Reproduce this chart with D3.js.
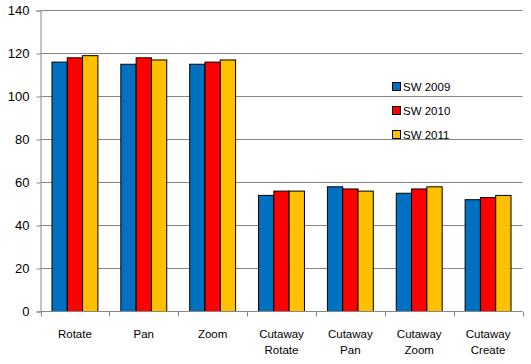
<!DOCTYPE html>
<html>
<head>
<meta charset="utf-8">
<script src="https://cdn.jsdelivr.net/npm/d3@7"></script>
<style>
  body { margin: 0; background: #fff; }
  text { font-family: "Liberation Sans", Arial, sans-serif; fill: #000; }
</style>
</head>
<body>
<svg id="chart" width="531" height="364"></svg>
<script>
var categories = [["Rotate"], ["Pan"], ["Zoom"], ["Cutaway", "Rotate"], ["Cutaway", "Pan"], ["Cutaway", "Zoom"], ["Cutaway", "Create"]];
var seriesNames = ["SW 2009", "SW 2010", "SW 2011"];
var sw2009 = [116, 115, 115, 54, 58, 55, 52];
var sw2010 = [118, 118, 116, 56, 57, 57, 53];
var sw2011 = [119, 117, 117, 56, 56, 58, 54];
var yTicks = [0, 20, 40, 60, 80, 100, 120, 140];
var colors = ["#0070C0", "#FF0000", "#FFC000"];

function drawChart() {
    var series = [sw2009, sw2010, sw2011];
    var svg = d3.select("#chart");
    var plotLeft = 40.5, plotRight = 522.5, plotTop = 10.5, plotBottom = 311.5;

    var x = d3.scaleBand()
        .domain(d3.range(categories.length))
        .range([plotLeft, plotRight])
        .paddingInner(0)
        .paddingOuter(0);

    // gap between groups is 150% of a bar width
    var inner = d3.scaleBand()
        .domain(d3.range(series.length))
        .range([0, x.bandwidth()])
        .paddingInner(0)
        .paddingOuter(0.75);

    var y = d3.scaleLinear().domain([0, 140]).range([plotBottom, plotTop]);

    // gridlines
    svg.append("g")
        .selectAll("line")
        .data(yTicks.filter(function(d) { return d > 0; }))
        .enter()
        .append("line")
            .attr("x1", plotLeft)
            .attr("x2", plotRight)
            .attr("y1", function(d) { return y(d); })
            .attr("y2", function(d) { return y(d); })
            .attr("stroke", "#868686");

    // y axis
    var yAxis = svg.append("g")
        .attr("transform", "translate(" + plotLeft + ",0)")
        .call(d3.axisLeft(y).tickValues(yTicks).tickSize(4).tickPadding(7));
    yAxis.select(".domain").attr("stroke", "#868686");
    yAxis.selectAll(".tick line").attr("stroke", "#868686");
    yAxis.selectAll("text").style("font-size", "13px").style("font-family", "Liberation Sans, Arial, sans-serif");

    // bars
    series.forEach(function(vals, s) {
        svg.append("g")
            .selectAll("rect")
            .data(vals)
            .enter()
            .append("rect")
                .attr("x", function(d, i) { return x(i) + inner(s); })
                .attr("y", function(d) { return y(d); })
                .attr("width", inner.bandwidth())
                .attr("height", function(d) { return plotBottom - y(d); })
                .attr("fill", colors[s])
                .attr("stroke", "#000")
                .attr("stroke-width", 1);
    });

    // x axis
    svg.append("line")
        .attr("x1", plotLeft).attr("x2", plotRight)
        .attr("y1", plotBottom).attr("y2", plotBottom)
        .attr("stroke", "#868686");

    svg.append("g")
        .selectAll("line")
        .data(d3.range(categories.length + 1))
        .enter()
        .append("line")
            .attr("x1", function(i) { return Math.round(plotLeft + i * x.step()) + 0.5; })
            .attr("x2", function(i) { return Math.round(plotLeft + i * x.step()) + 0.5; })
            .attr("y1", plotBottom)
            .attr("y2", plotBottom + 5)
            .attr("stroke", "#868686");

    var labels = svg.append("g")
        .selectAll("text")
        .data(categories)
        .enter()
        .append("text")
            .attr("text-anchor", "middle")
            .style("font-size", "11.5px")
            .attr("x", function(d, i) { return x(i) + x.bandwidth() / 2; });
    labels.selectAll("tspan")
        .data(function(d) { return d; })
        .enter()
        .append("tspan")
            .attr("x", function() { return d3.select(this.parentNode).attr("x"); })
            .attr("y", function(d, j) { return 337.5 + j * 16; })
            .text(function(d) { return d; });

    // legend
    var legend = svg.append("g")
        .selectAll("g")
        .data(seriesNames)
        .enter()
        .append("g")
            .attr("transform", function(d, i) { return "translate(392," + (86 + i * 24) + ")"; });
    legend.append("rect")
        .attr("x", 0.5).attr("y", -3.5)
        .attr("width", 8).attr("height", 8)
        .attr("fill", function(d, i) { return colors[i]; })
        .attr("stroke", "#000");
    legend.append("text")
        .attr("x", 11)
        .attr("y", 4.5)
        .style("font-size", "11.5px")
        .text(function(d) { return d; });
}

drawChart();
</script>
</body>
</html>
